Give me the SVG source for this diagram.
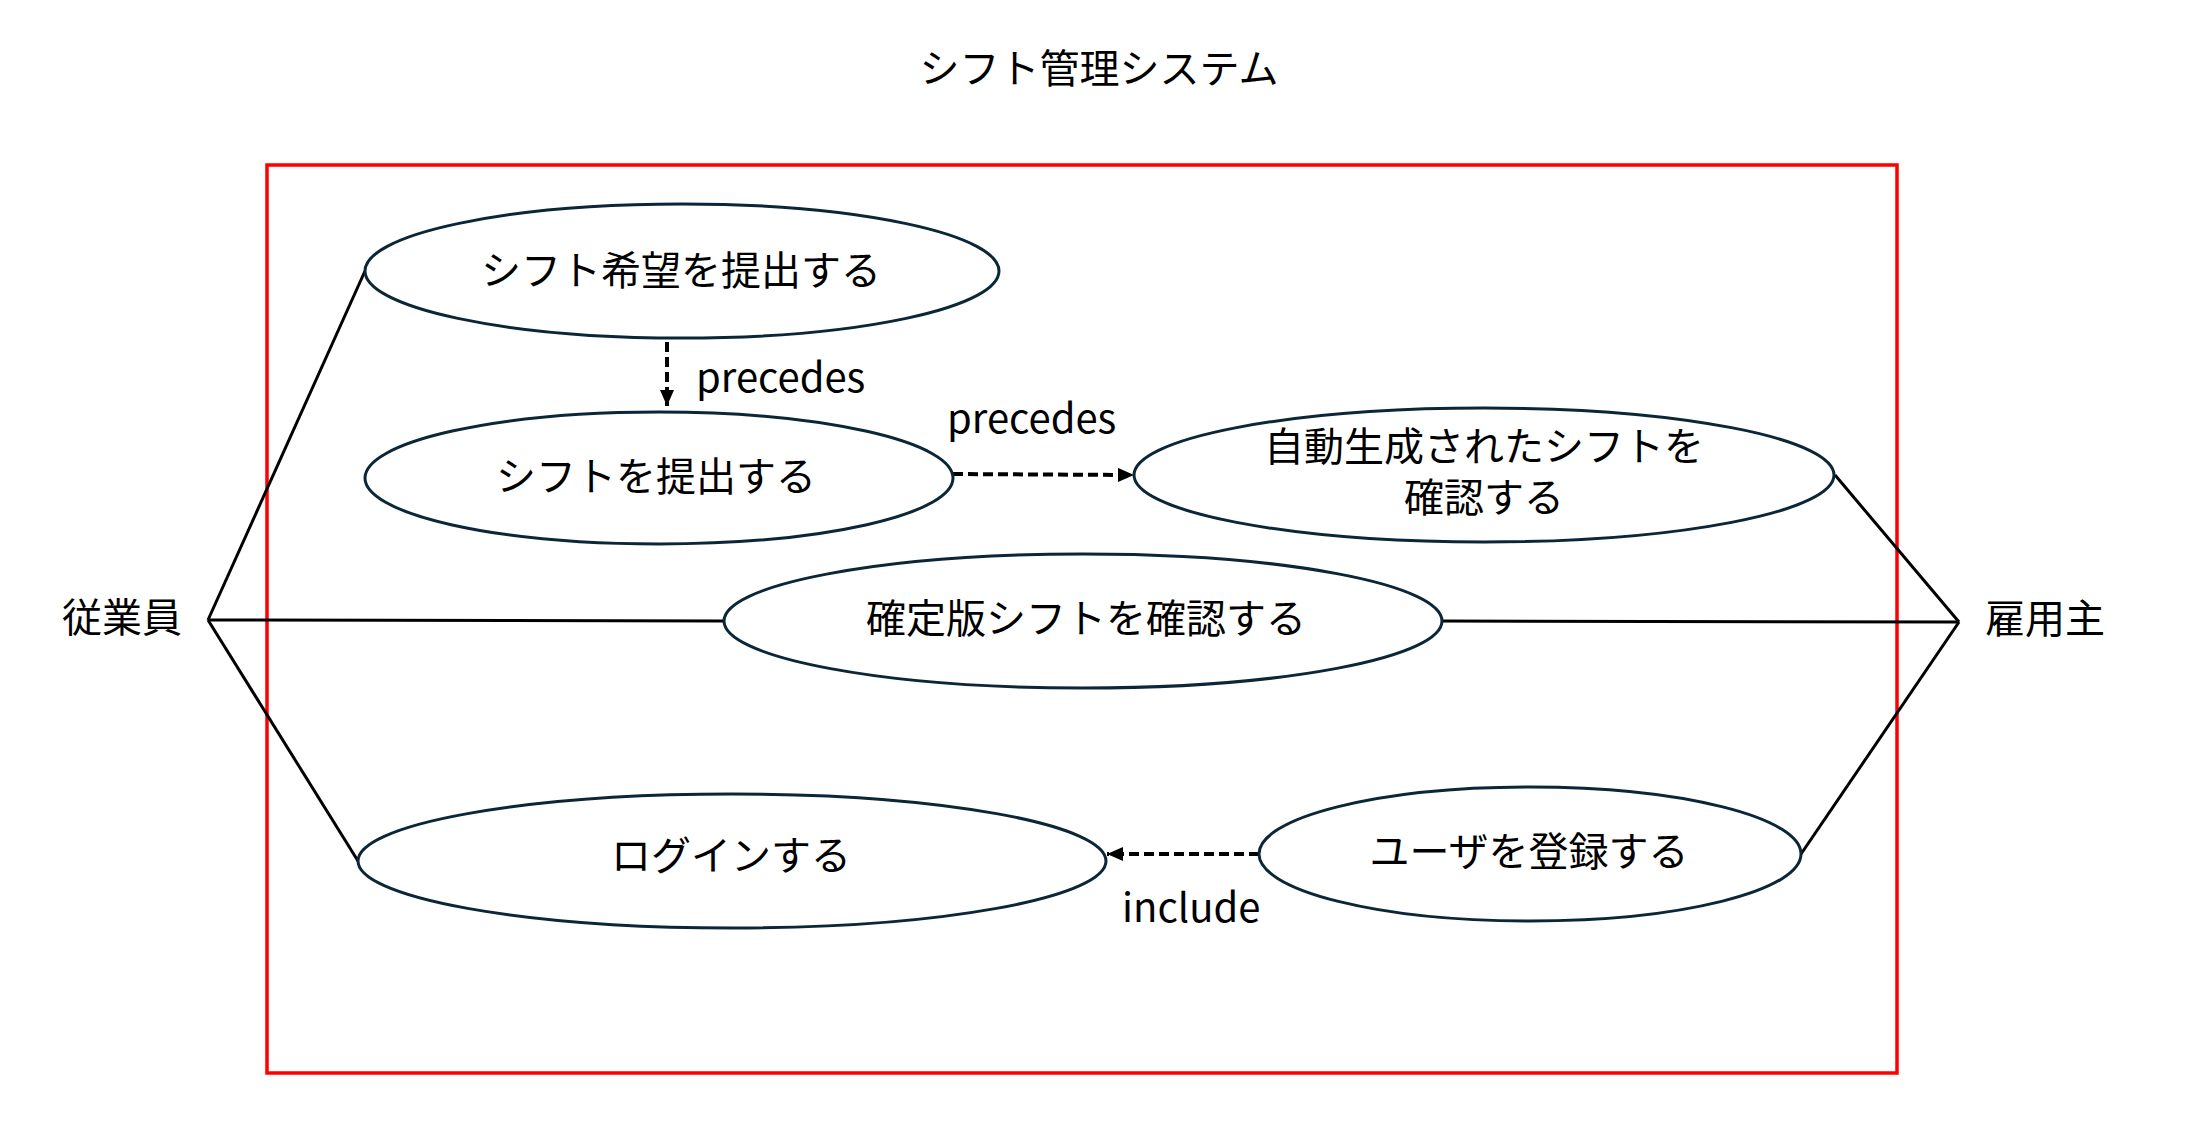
<svg xmlns="http://www.w3.org/2000/svg" width="2200" height="1135" viewBox="0 0 2200 1135">
<style>
  text { font-family: "Noto Sans CJK JP", "Noto Sans", sans-serif; font-size: 40px; fill: #000; }
  .mid { text-anchor: middle; }
  .uc { fill: #fff; stroke: #0b2636; stroke-width: 3; }
  .assoc { stroke: #000; stroke-width: 3; fill: none; }
  .dep { stroke: #000; stroke-width: 4; fill: none; stroke-dasharray: 10 5; }
</style>
<defs>
  <marker id="arrow" markerUnits="userSpaceOnUse" markerWidth="16" markerHeight="14" refX="16" refY="7" orient="auto">
    <path d="M0,0 L16,7 L0,14 Z" fill="#000"/>
  </marker>
</defs>
<rect width="2200" height="1135" fill="#fff"/>
<g id="title"><text class="mid" x="1099" y="83">シフト管理システム</text></g>
<g id="system-boundary"><rect x="267" y="165" width="1630" height="908" fill="none" stroke="#ff0000" stroke-width="3.5"/></g>
<g id="connectors">
  <line class="assoc" x1="208" y1="620" x2="365" y2="271"/>
  <line class="assoc" x1="208" y1="620" x2="724" y2="621"/>
  <line class="assoc" x1="208" y1="620" x2="358" y2="861"/>
  <line class="assoc" x1="1959" y1="622" x2="1835" y2="475"/>
  <line class="assoc" x1="1959" y1="622" x2="1442" y2="621"/>
  <line class="assoc" x1="1959" y1="622" x2="1801" y2="854"/>
  <line class="dep" x1="667" y1="342" x2="667" y2="406" marker-end="url(#arrow)"/>
  <line class="dep" x1="953" y1="474" x2="1134" y2="475" marker-end="url(#arrow)"/>
  <line class="dep" x1="1259" y1="854" x2="1107" y2="854" marker-end="url(#arrow)"/>
  <text x="696" y="392">precedes</text>
  <text x="947" y="433">precedes</text>
  <text x="1122" y="922">include</text>
</g>
<g id="actor-employee"><text x="62" y="632">従業員</text></g>
<g id="actor-employer"><text x="1985" y="633">雇用主</text></g>
<g id="uc-submit-request">
  <ellipse class="uc" cx="682" cy="271" rx="317" ry="67"/>
  <text class="mid" x="681" y="285">シフト希望を提出する</text>
</g>
<g id="uc-submit-shift">
  <ellipse class="uc" cx="659" cy="478" rx="294" ry="66"/>
  <text class="mid" x="656" y="491">シフトを提出する</text>
</g>
<g id="uc-check-generated">
  <ellipse class="uc" cx="1484" cy="475" rx="350" ry="67"/>
  <text class="mid" x="1484" y="461">自動生成されたシフトを<tspan x="1484" dy="51">確認する</tspan></text>
</g>
<g id="uc-check-final">
  <ellipse class="uc" cx="1083" cy="621" rx="359" ry="67"/>
  <text class="mid" x="1086" y="633">確定版シフトを確認する</text>
</g>
<g id="uc-login">
  <ellipse class="uc" cx="732" cy="861" rx="374" ry="67"/>
  <text class="mid" x="731" y="870">ログインする</text>
</g>
<g id="uc-register-user">
  <ellipse class="uc" cx="1530" cy="854" rx="271" ry="67"/>
  <text class="mid" x="1529" y="866">ユーザを登録する</text>
</g>
</svg>
